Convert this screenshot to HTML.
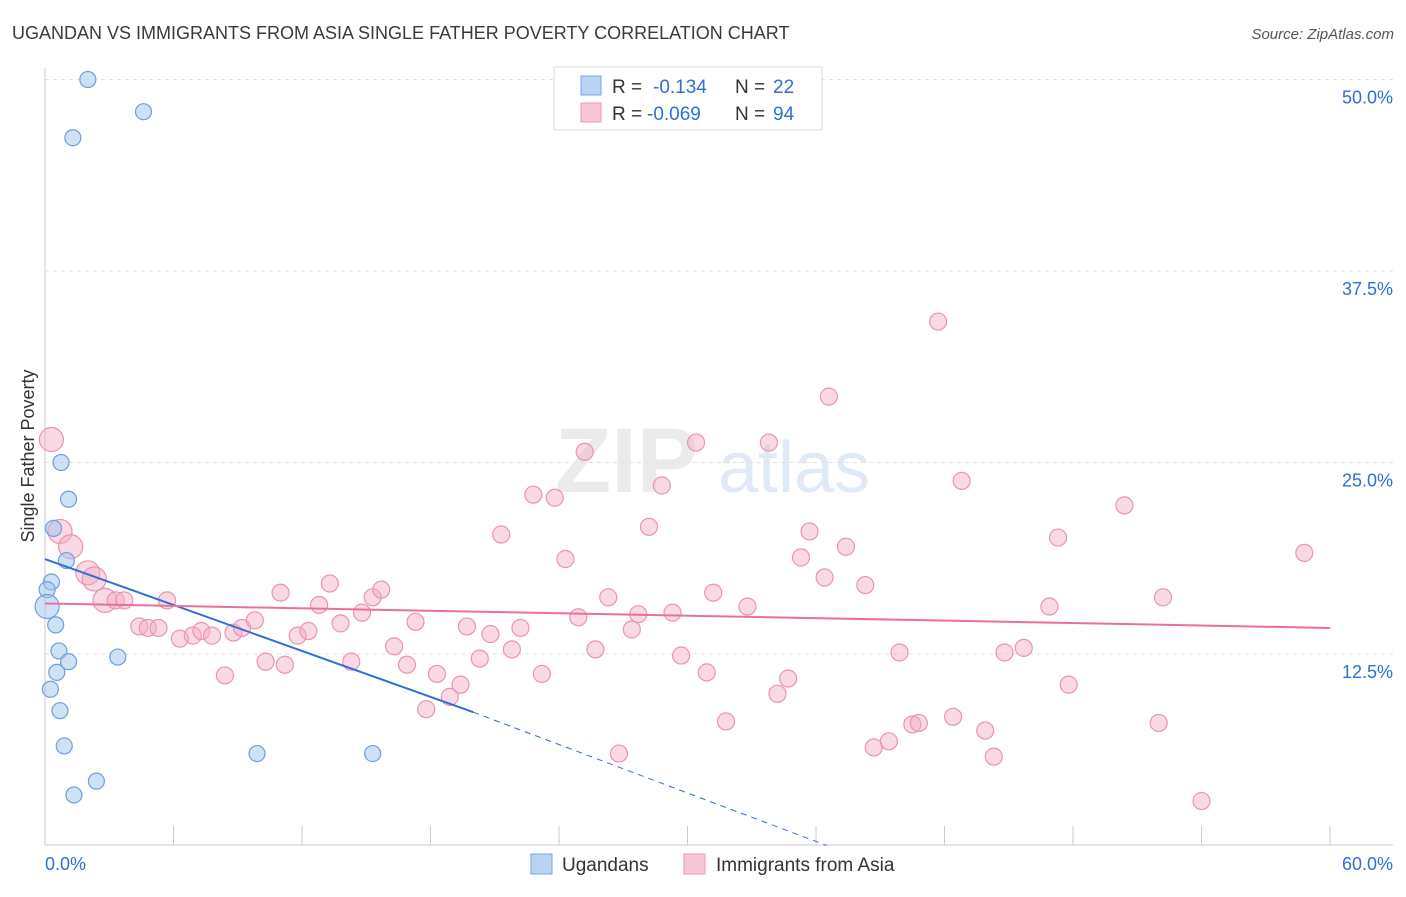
<!DOCTYPE html>
<html><head><meta charset="utf-8"><style>
body{margin:0;background:#fff;font-family:"Liberation Sans",sans-serif;}
svg text{font-family:"Liberation Sans",sans-serif;}
</style></head><body>
<svg id="chart" width="1406" height="892" xmlns="http://www.w3.org/2000/svg">
<text x="12" y="39" font-size="18" fill="#3a3a3a">UGANDAN VS IMMIGRANTS FROM ASIA SINGLE FATHER POVERTY CORRELATION CHART</text>
<text x="1394" y="39" font-size="15" fill="#555" text-anchor="end" font-style="italic">Source: ZipAtlas.com</text>
<g opacity="0.35">
<text x="555" y="492" font-size="92" font-family="Liberation Serif" fill="#c8c8c8" font-weight="bold">ZIP</text>
<text x="718" y="492" font-size="72" fill="#a8c4e8">atlas</text>
</g>
<g id="grid"></g>
<g id="axes"></g>
<g id="marks"></g>
<g>
<rect x="554" y="67" width="268" height="63" fill="#fff" stroke="#ddd"/>
<rect x="581" y="76" width="20" height="19" fill="#b9d3f5" stroke="#7aa6e0"/>
<rect x="581" y="103" width="20" height="19" fill="#f9c6d6" stroke="#eb9ab4"/>
<text x="612" y="93" font-size="19" fill="#333">R = </text><text x="653" y="93" font-size="19" fill="#2f6fd6">-0.134</text>
<text x="735" y="93" font-size="19" fill="#333">N = </text><text x="773" y="93" font-size="19" fill="#2f6fd6">22</text>
<text x="612" y="120" font-size="19" fill="#333">R = </text><text x="647" y="120" font-size="19" fill="#2f6fd6">-0.069</text>
<text x="735" y="120" font-size="19" fill="#333">N = </text><text x="773" y="120" font-size="19" fill="#2f6fd6">94</text>
</g>
<g>
<rect x="531" y="854" width="21" height="20" fill="#b9d3f5" stroke="#7aa6e0"/>
<text x="562" y="871" font-size="19" fill="#333">Ugandans</text>
<rect x="684" y="854" width="21" height="20" fill="#f9c6d6" stroke="#eb9ab4"/>
<text x="716" y="871" font-size="19" fill="#333">Immigrants from Asia</text>
</g>
<text transform="translate(34,456) rotate(-90)" font-size="18" fill="#333" text-anchor="middle">Single Father Poverty</text>
<text x="45" y="870" font-size="18" fill="#2f6fd6">0.0%</text>
<text x="1393" y="870" font-size="18" fill="#2f6fd6" text-anchor="end">60.0%</text>
</svg>
<script>
const yTicks=[12.5,25,37.5,50];
const yTickLabels=["12.5%","25.0%","37.5%","50.0%"];
const xTicks=[0,6,12,18,24,30,36,42,48,54,60];
const blueX=[2.0,4.6,1.3,0.75,1.1,0.4,1.0,0.3,0.1,0.1,0.5,0.65,1.1,3.4,0.55,0.25,0.7,0.9,9.9,15.3,2.4,1.35];
const blueY=[50.0,47.9,46.2,25.0,22.6,20.7,18.6,17.2,16.7,15.6,14.4,12.7,12.0,12.3,11.3,10.2,8.8,6.5,6.0,6.0,4.2,3.3];
const blueBig=[0,0,0,0,0,0,0,0,0,1,0,0,0,0,0,0,0,0,0,0,0,0];
const pinkX=[0.3,0.7,1.2,2.0,2.3,2.8,3.3,3.7,5.7,4.4,4.8,5.3,6.3,6.9,7.3,7.8,8.8,9.2,9.8,8.4,10.3,11.2,11.0,11.8,12.3,12.8,13.3,13.8,14.3,14.8,15.3,15.7,16.3,16.9,17.3,17.8,18.3,18.9,19.4,19.7,20.3,20.8,21.3,21.8,22.2,22.8,23.2,23.8,24.3,25.2,24.9,25.7,26.3,26.8,27.4,27.7,28.2,28.8,29.3,29.7,30.4,30.9,31.2,31.8,32.8,33.8,34.2,34.7,35.3,35.7,36.4,36.6,37.4,38.3,38.7,39.4,39.9,40.5,40.8,41.7,42.4,42.8,43.9,44.3,44.8,45.7,46.9,47.3,47.8,50.4,52.0,52.2,54.0,58.8];
const pinkY=[26.5,20.5,19.5,17.8,17.4,16.0,16.0,16.0,16.0,14.3,14.2,14.2,13.5,13.7,14.0,13.7,13.9,14.2,14.7,11.1,12.0,11.8,16.5,13.7,14.0,15.7,17.1,14.5,12.0,15.2,16.2,16.7,13.0,11.8,14.6,8.9,11.2,9.7,10.5,14.3,12.2,13.8,20.3,12.8,14.2,22.9,11.2,22.7,18.7,25.7,14.9,12.8,16.2,6.0,14.1,15.1,20.8,23.5,15.2,12.4,26.3,11.3,16.5,8.1,15.6,26.3,9.9,10.9,18.8,20.5,17.5,29.3,19.5,17.0,6.4,6.8,12.6,7.9,8.0,34.2,8.4,23.8,7.5,5.8,12.6,12.9,15.6,20.1,10.5,22.2,8.0,16.2,2.9,19.1];
const pinkBig=[1,1,1,1,1,1,0,0,0,0,0,0,0,0,0,0,0,0,0];
const blueTrend=[[0,18.7],[20,8.7],[36.5,0]];
const pinkTrend=[[0,15.8],[60,14.2]];
const X=v=>45+v*21.417, Y=v=>845.5-v*15.32;
const NS="http://www.w3.org/2000/svg";
function mk(p,t,a){const e=document.createElementNS(NS,t);for(const k in a)e.setAttribute(k,a[k]);p.appendChild(e);return e;}
const grid=document.getElementById('grid'),axes=document.getElementById('axes'),marks=document.getElementById('marks');
yTicks.forEach((t,i)=>{
 const l=mk(grid,'line',{x1:45,x2:1393,y1:Y(t),y2:Y(t),stroke:'#e2e2e2','stroke-dasharray':'4,4'});
 
 
 const tx=mk(axes,'text',{x:1393,y:Y(t)+24,'font-size':18,fill:'#2f6fd6','text-anchor':'end'});
 tx.textContent=yTickLabels[i];
 
 
});
mk(axes,'line',{x1:45,x2:45,y1:68,y2:845,stroke:'#ccc'});
mk(axes,'line',{x1:45,x2:1393,y1:845,y2:845,stroke:'#ccc'});
xTicks.forEach(t=>{
 const l=mk(axes,'line',{x1:X(t),x2:X(t),y1:826,y2:845,stroke:'#ccc'});
 
 
});
pinkX.forEach((v,i)=>{
 const c=mk(marks,'circle',{cx:X(v),cy:Y(pinkY[i]),r:pinkBig[i]?12:8.5,fill:'rgba(244,170,195,0.45)',stroke:'#e995b0','stroke-width':1.2});
 
 
});
blueX.forEach((v,i)=>{
 const c=mk(marks,'circle',{cx:X(v),cy:Y(blueY[i]),r:blueBig[i]?12:8,fill:'rgba(160,195,240,0.5)',stroke:'#6f9fdc','stroke-width':1.2});
 
 
});
let l1=mk(marks,'line',{x1:X(blueTrend[0][0]),y1:Y(blueTrend[0][1]),x2:X(blueTrend[1][0]),y2:Y(blueTrend[1][1]),stroke:'#2f6fd6','stroke-width':2});


let l2=mk(marks,'line',{x1:X(blueTrend[1][0]),y1:Y(blueTrend[1][1]),x2:X(blueTrend[2][0]),y2:Y(blueTrend[2][1]),stroke:'#2f6fd6','stroke-width':1,'stroke-dasharray':'6,5'});


let l3=mk(marks,'line',{x1:X(pinkTrend[0][0]),y1:Y(pinkTrend[0][1]),x2:X(pinkTrend[1][0]),y2:Y(pinkTrend[1][1]),stroke:'#e8709a','stroke-width':2});


</script>
</body></html>
